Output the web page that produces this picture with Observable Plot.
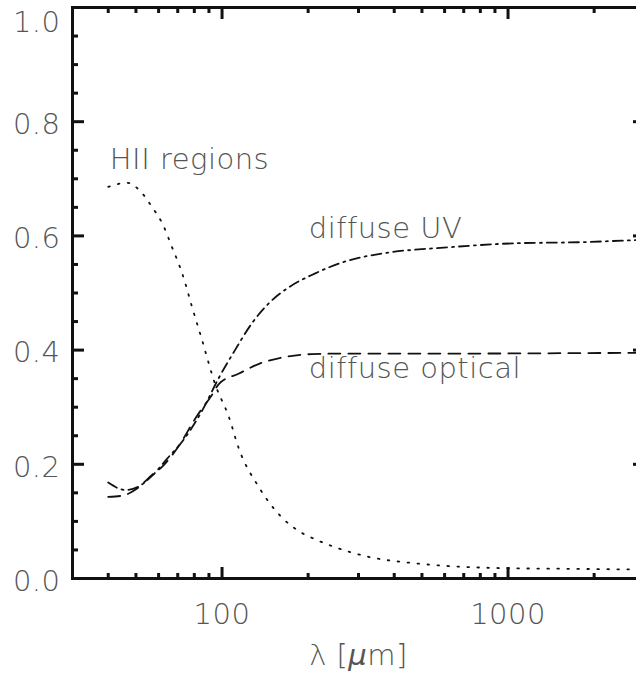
<!DOCTYPE html>
<html><head><meta charset="utf-8">
<script src="https://cdn.jsdelivr.net/npm/d3@7"></script>
<script src="https://cdn.jsdelivr.net/npm/@observablehq/plot@0.6"></script>
<style>
html,body{margin:0;padding:0;overflow:hidden;background:#fff;}
svg text{font-family:"DejaVu Sans",sans-serif;font-weight:200;letter-spacing:0.5px;}
</style>
</head><body><div id="chart"></div>
<script>
// HII regions (dotted)
const hiiLambda = [40, 46.7, 51.4, 57.0, 61.8, 66.9, 72.6, 78.6, 85.2, 94.5, 105.8, 114.6, 134.5, 161.8, 190, 211, 248, 325, 486, 725, 1000, 1618, 2748, 3000];
const hiiValue  = [0.686, 0.693, 0.68, 0.65, 0.622, 0.58, 0.534, 0.475, 0.417, 0.341, 0.282, 0.227, 0.16, 0.107, 0.080, 0.069, 0.055, 0.038, 0.026, 0.020, 0.018, 0.017, 0.016, 0.016];
// diffuse UV (dash-dot)
const uvLambda = [40, 45.9, 50.6, 57.0, 64.3, 72.6, 85.2, 97.6, 111, 127.2, 145.8, 171.2, 210.9, 277, 361, 618, 1049, 1796, 2618, 3000];
const uvValue  = [0.168, 0.155, 0.160, 0.180, 0.210, 0.240, 0.294, 0.352, 0.400, 0.447, 0.482, 0.510, 0.534, 0.557, 0.569, 0.580, 0.587, 0.589, 0.592, 0.593];
// diffuse optical (dashed)
const optLambda = [40, 44.8, 50.6, 57.0, 61.8, 69.7, 81.8, 92.3, 97.6, 114.6, 134.6, 161.9, 205.9, 277, 805, 2618, 3000];
const optValue  = [0.143, 0.145, 0.158, 0.182, 0.196, 0.228, 0.285, 0.322, 0.341, 0.359, 0.376, 0.387, 0.393, 0.394, 0.394, 0.395, 0.395];

const xMajor = [100, 1000];
const xMinor = [40, 50, 60, 70, 80, 90, 200, 300, 400, 500, 600, 700, 800, 900, 2000, 3000];
const yMajor = [0, 0.2, 0.4, 0.6, 0.8, 1.0];
const yMinor = [0.05,0.1,0.15,0.25,0.3,0.35,0.45,0.5,0.55,0.65,0.7,0.75,0.85,0.9,0.95];
const yLabelsInner = [0, 0.2, 0.4, 0.6, 0.8];
const yLabelsTop = [1.0];

const labels = [
  {text: "HII regions", x: 40.5, y: 0.718},
  {text: "diffuse UV", x: 201, y: 0.597},
  {text: "diffuse optical", x: 201, y: 0.352}
];

const hii = hiiLambda.map((l,i)=>({l, v: hiiValue[i]}));
const uv = uvLambda.map((l,i)=>({l, v: uvValue[i]}));
const opt = optLambda.map((l,i)=>({l, v: optValue[i]}));

const ink = "#111";
const txt = "#555";
const fs = 29;

const chart = Plot.plot({
  width: 646, height: 675,
  marginLeft: 72, marginRight: 2, marginTop: 7, marginBottom: 97,
  x: {type: "log", domain: [30, 3000]},
  y: {domain: [0, 1]},
  style: {fontFamily: "DejaVu Sans", background: "#fff", overflow: "visible"},
  marks: [
    Plot.line(hii, {x: "l", y: "v", stroke: ink, strokeWidth: 1.8, strokeDasharray: "1.6,8.4", strokeLinecap: "round", curve: "monotone-x"}),
    Plot.line(uv, {x: "l", y: "v", stroke: ink, strokeWidth: 1.8, strokeDasharray: "10,5,2,5", curve: "monotone-x"}),
    Plot.line(opt, {x: "l", y: "v", stroke: ink, strokeWidth: 1.8, strokeDasharray: "12,8", curve: "monotone-x"}),
    Plot.frame({stroke: ink, strokeWidth: 3}),
    // ticks (inward)
    Plot.axisX({anchor: "bottom", ticks: xMajor, tickSize: 11, dy: -11, text: null, label: null, stroke: ink, strokeWidth: 3}),
    Plot.axisX({anchor: "bottom", ticks: xMinor, tickSize: 5, dy: -5, text: null, label: null, stroke: ink, strokeWidth: 3}),
    Plot.axisX({anchor: "top", ticks: xMajor, tickSize: 11, dy: 11, text: null, label: null, stroke: ink, strokeWidth: 3}),
    Plot.axisX({anchor: "top", ticks: xMinor, tickSize: 5, dy: 5, text: null, label: null, stroke: ink, strokeWidth: 3}),
    Plot.axisY({anchor: "left", ticks: yMajor, tickSize: 12, dx: 12, text: null, label: null, stroke: ink, strokeWidth: 3}),
    Plot.axisY({anchor: "left", ticks: yMinor, tickSize: 6, dx: 6, text: null, label: null, stroke: ink, strokeWidth: 3}),
    Plot.axisY({anchor: "right", ticks: yMajor, tickSize: 12, dx: -12, text: null, label: null, stroke: ink, strokeWidth: 3}),
    Plot.axisY({anchor: "right", ticks: yMinor, tickSize: 6, dx: -6, text: null, label: null, stroke: ink, strokeWidth: 3}),
    // tick labels
    Plot.axisX({anchor: "bottom", ticks: xMajor, tickSize: 0, tickPadding: 25, tickFormat: d => String(d), label: null, fontSize: fs, fill: txt}),
    Plot.text(yLabelsInner, {y: d => d, frameAnchor: "left", dx: -12, dy: 3, textAnchor: "end", lineAnchor: "middle", text: d => d.toFixed(1), fontSize: fs, fill: txt}),
    Plot.text(yLabelsTop, {y: d => d, frameAnchor: "left", dx: -12, dy: 4, textAnchor: "end", lineAnchor: "top", text: d => d.toFixed(1), fontSize: fs, fill: txt}),
    // axis title
    Plot.text(["λ [μm]"], {frameAnchor: "bottom", dy: 86, fontSize: fs, fill: txt, lineAnchor: "bottom", className: "xlabel"}),
    // curve labels
    Plot.text(labels, {x: "x", y: "y", text: "text", textAnchor: "start", lineAnchor: "bottom", fontSize: fs, fill: txt})
  ]
});
chart.style.maxWidth = "none";
document.getElementById("chart").appendChild(chart);
d3.select(chart).selectAll("g.xlabel text").each(function(){
  const t = d3.select(this);
  t.text(null);
  t.append("tspan").text("λ [");
  t.append("tspan").attr("font-style", "italic").text("μ");
  t.append("tspan").text("m]");
});
</script>
</body></html>
